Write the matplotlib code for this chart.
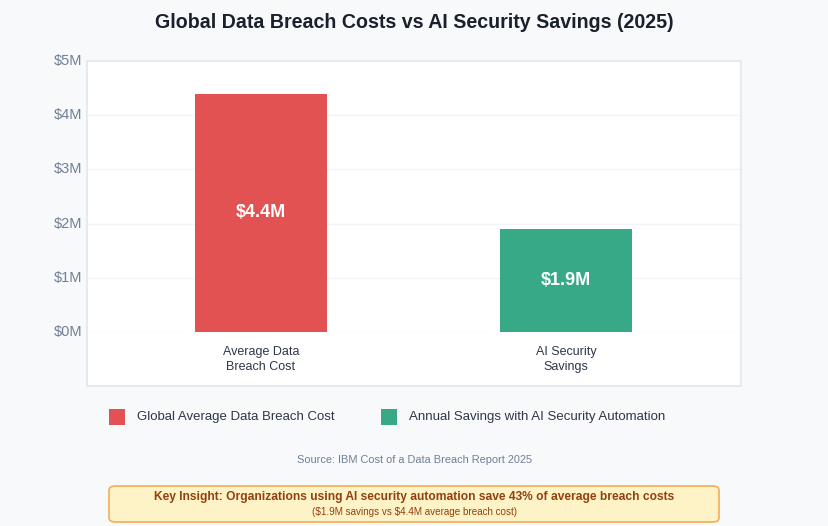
import matplotlib
matplotlib.use("Agg")
import matplotlib.pyplot as plt
from matplotlib.patches import FancyBboxPatch, Rectangle

plt.rcParams['font.family'] = ['Liberation Sans', 'DejaVu Sans']
plt.rcParams['text.parse_math'] = False

categories = ["Average Data\nBreach Cost", "AI Security\nSavings"]
values = [4.4, 1.9]
bar_labels = ["$4.4M", "$1.9M"]
legend_labels = ["Global Average Data Breach Cost", "Annual Savings with AI Security Automation"]
colors = ["#e25252", "#38a987"]
yticks = [0, 1, 2, 3, 4, 5]
ytick_labels = ["$0M", "$1M", "$2M", "$3M", "$4M", "$5M"]

W, H = 829, 526
fig = plt.figure(figsize=(W / 100, H / 100), dpi=100)
fig.patch.set_facecolor("#f7f9fb")

def fx(px):
    return px / W

def fy(py):
    return 1 - py / H

# panel
panel = Rectangle((fx(87.5), fy(386)), fx(741) - fx(87.5), fy(60.5) - fy(386),
                  transform=fig.transFigure, facecolor="white", edgecolor="#e2e8f0",
                  linewidth=1.2, zorder=-5)
fig.patches.append(panel)

ax = fig.add_axes([fx(88), fy(332), fx(740) - fx(88), fy(61) - fy(332)])
ax.set_facecolor("none")
ax.set_zorder(2)
x = list(range(len(categories)))
ax.bar(x, values, width=0.43, color=colors, zorder=3)
ax.set_xlim(-0.567, 1.57)
ax.set_ylim(0, 5)
for s in ax.spines.values():
    s.set_visible(False)
ax.set_yticks(yticks)
ax.set_yticklabels([])
ax.tick_params(length=0)
ax.set_xticks([])
for yv in yticks[:-1]:
    ax.axhline(yv, color="#f2f4f7", linewidth=1.0, zorder=1)

for yv, lab in zip(yticks, ytick_labels):
    ax.text(-0.567 - 6 / 305, yv, lab, ha="right", va="center", fontsize=10.5,
            color="#718096", clip_on=False)

for xi, v, lab in zip(x, values, bar_labels):
    ax.text(xi, v / 2, lab, ha="center", va="center", color="white",
            fontsize=13, fontweight="bold", zorder=4)
    ax.text(xi, -0.25, categories[xi], ha="center", va="top", color="#2d3748",
            fontsize=9, linespacing=1.4, clip_on=False)

fig.text(0.5, fy(22), "Global Data Breach Costs vs AI Security Savings (2025)",
         ha="center", va="center", fontsize=14.1, fontweight="bold", color="#1a202c")

# legend
for i, (lab, c) in enumerate(zip(legend_labels, colors)):
    x0 = [109, 381][i]
    fig.patches.append(Rectangle((fx(x0), fy(425)), fx(16), fy(409) - fy(425),
                                 transform=fig.transFigure, facecolor=c,
                                 edgecolor="none"))
    fig.text(fx(x0 + 28), fy(417), lab, ha="left", va="center", fontsize=9.5,
             color="#2d3748")

fig.text(0.5, fy(460), "Source: IBM Cost of a Data Breach Report 2025", ha="center",
         va="center", fontsize=7.9, color="#718096")

box = FancyBboxPatch((fx(109), fy(522)), fx(719) - fx(109), fy(486) - fy(522),
                     boxstyle="round,pad=0,rounding_size=0.008", transform=fig.transFigure,
                     facecolor="#fef3c7", edgecolor="#f6ad55", linewidth=1.2)
fig.patches.append(box)
fig.text(0.5, fy(497), "Key Insight: Organizations using AI security automation save 43% of average breach costs",
         ha="center", va="center", fontsize=8.65, fontweight="bold", color="#92400e")
fig.text(0.5, fy(512), "($1.9M savings vs $4.4M average breach cost)",
         ha="center", va="center", fontsize=7.1, color="#92400e")

fig.savefig("out.png", dpi=100, facecolor=fig.get_facecolor())
